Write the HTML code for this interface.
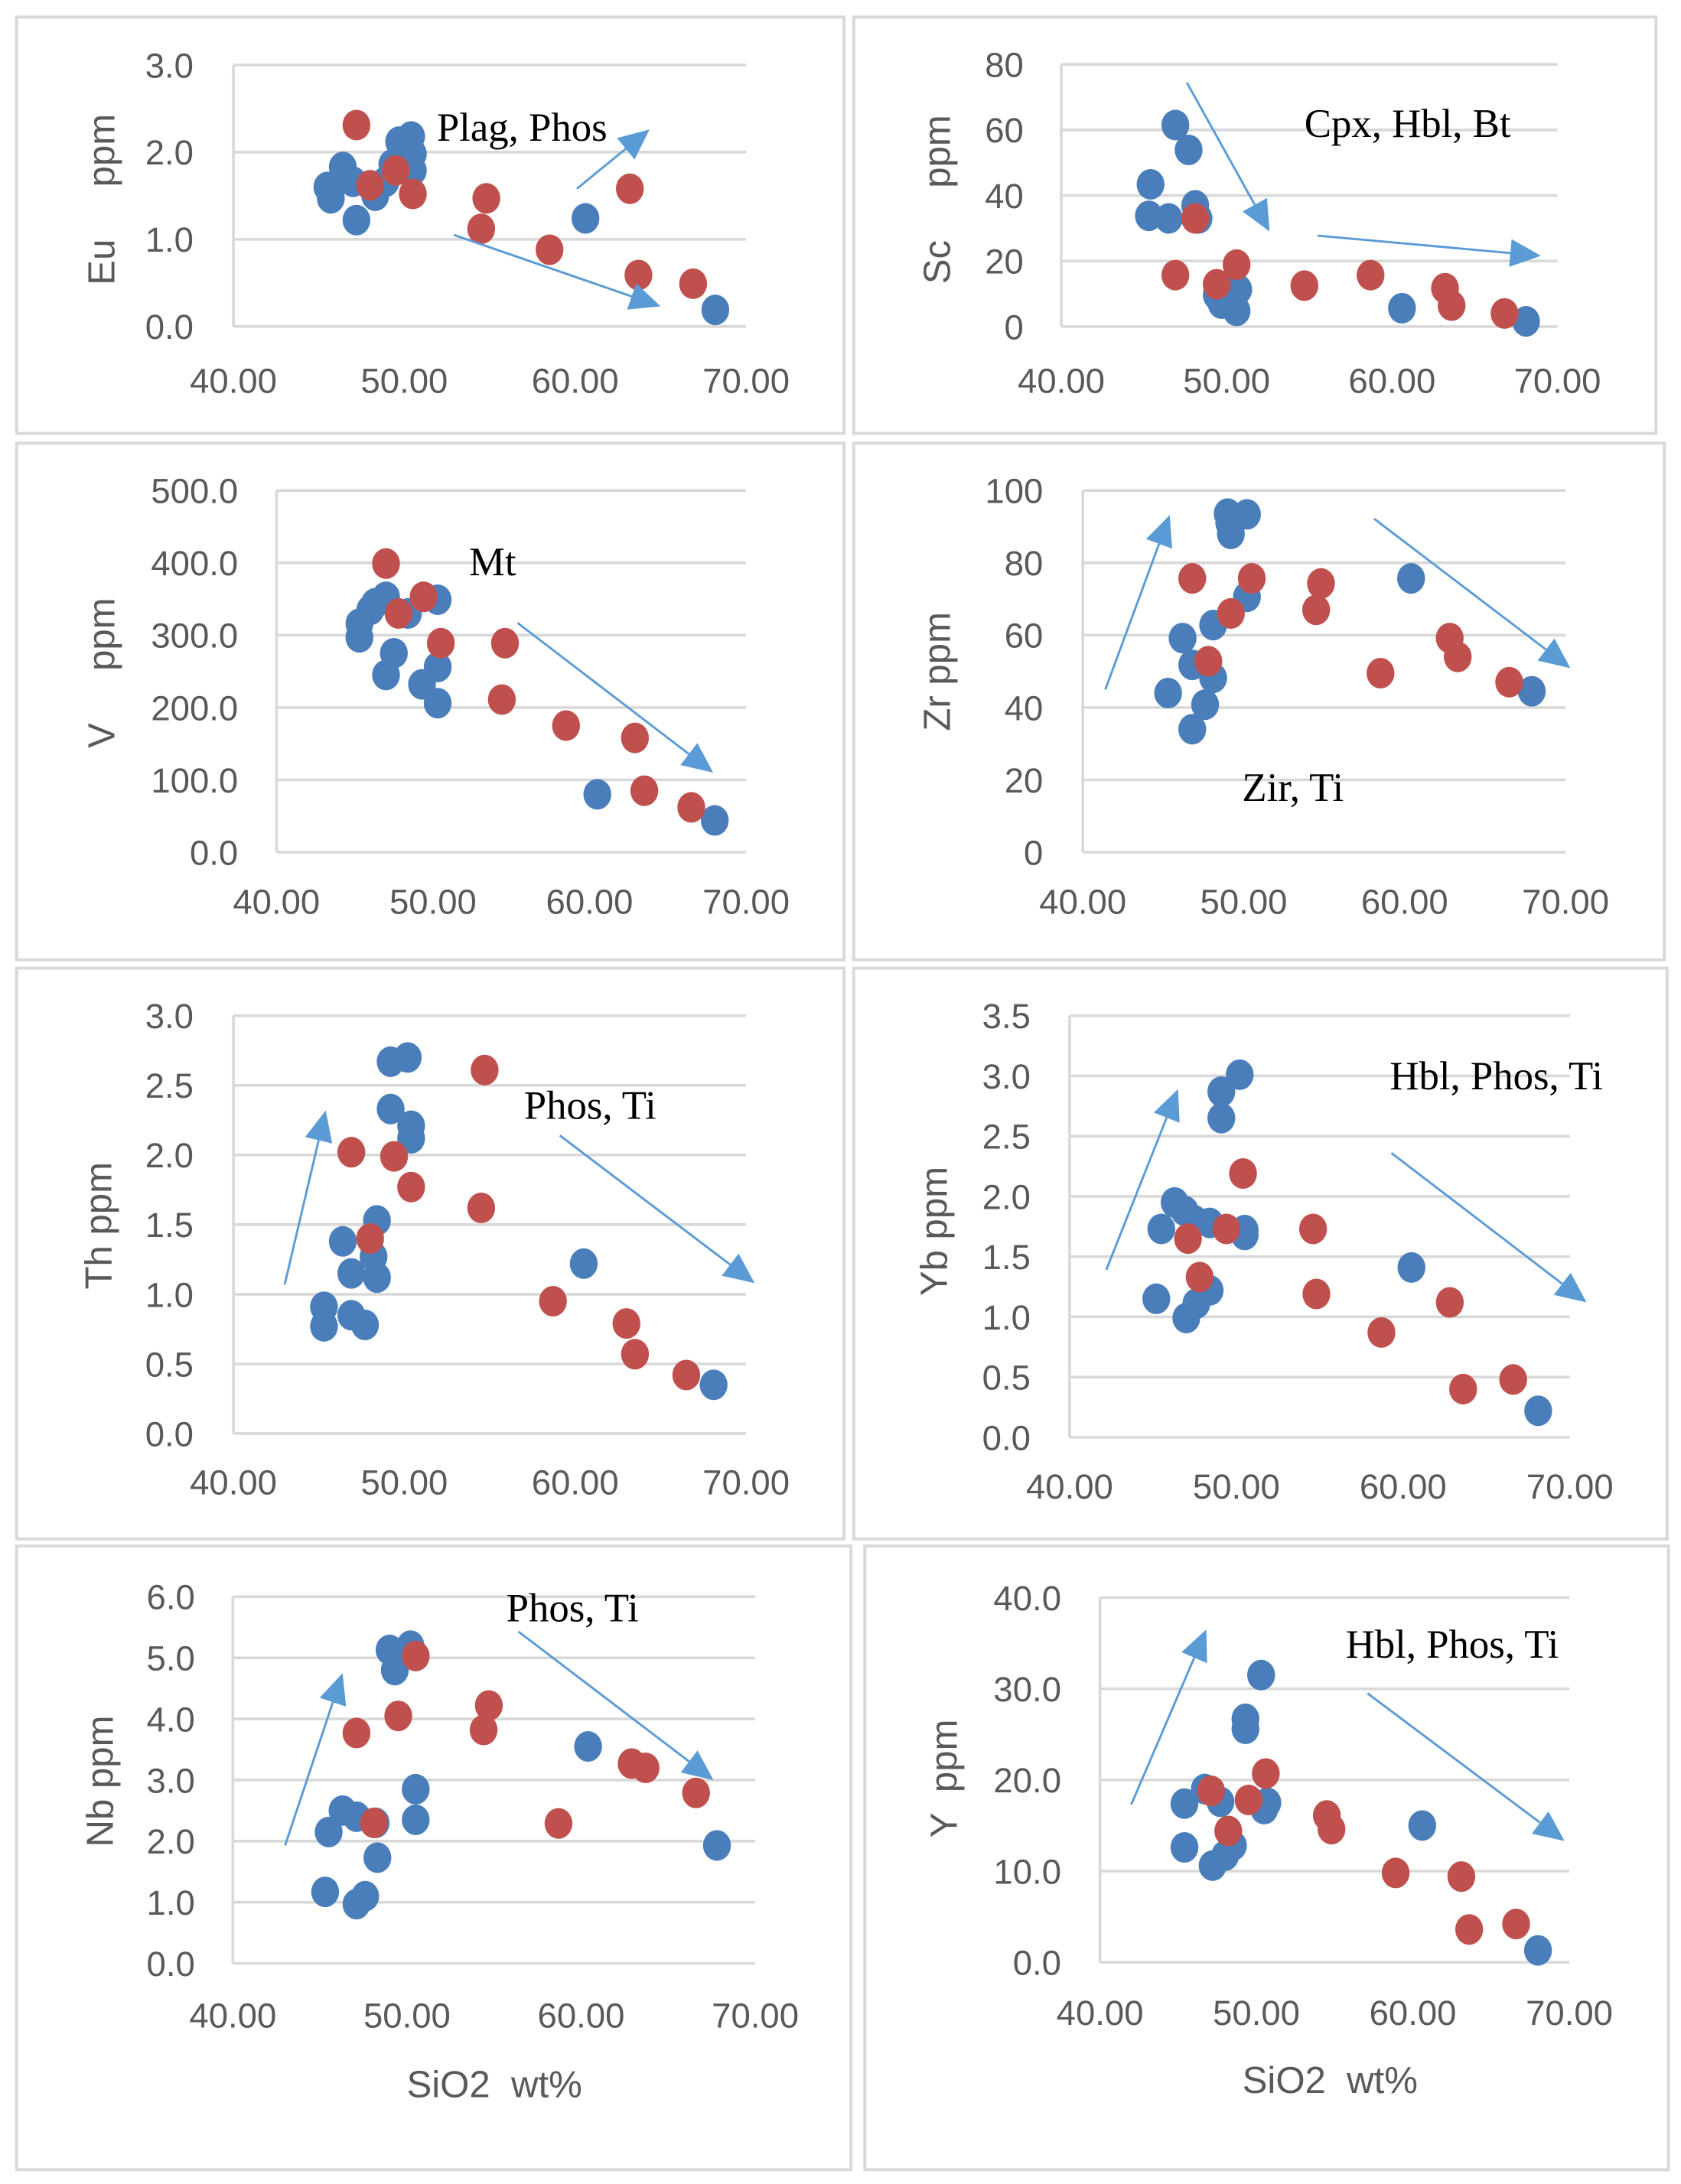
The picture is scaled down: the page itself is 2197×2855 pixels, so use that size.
<!DOCTYPE html>
<html><head><meta charset="utf-8"><style>
html,body{margin:0;padding:0;background:#fff}
svg{display:block}
text{white-space:pre}
</style></head><body>
<svg id="fig" xmlns="http://www.w3.org/2000/svg" width="2197" height="2855" viewBox="0 0 1207 1568"></svg>
<script>
// ---- data (SiO2 wt% vs element ppm) ----
const xTicks = [40, 50, 60, 70];
const xTickLabels = ["40.00", "50.00", "60.00", "70.00"];

const euBlueX = [45.5,45.7,46.4,47.2,47.0,48.3,48.9,49.7,50.4,50.5,50.5,49.3,60.6,68.2];
const euBlueY = [1.6,1.47,1.83,1.22,1.66,1.5,1.66,2.12,2.18,1.98,1.79,1.86,1.24,0.19];
const euRedX = [47.2,48.0,49.5,50.5,54.8,54.5,58.5,63.2,63.7,66.9];
const euRedY = [2.31,1.62,1.79,1.52,1.47,1.12,0.88,1.58,0.59,0.49];
const euTicks = [0,1,2,3];
const euTickLabels = ["0.0","1.0","2.0","3.0"];

const scBlueX = [46.9,47.7,45.4,45.3,46.5,48.1,48.3,49.4,50.7,50.6,49.7,60.6,68.1];
const scBlueY = [61.5,53.9,43.4,33.8,33,37,33,9.6,11.3,4.8,7,5.6,1.6];
const scRedX = [46.9,48.1,49.4,50.6,54.7,58.7,63.2,63.6,66.8];
const scRedY = [15.7,33,12.9,18.9,12.5,15.7,11.7,6.4,4];
const scTicks = [0,20,40,60,80];
const scTickLabels = ["0","20","40","60","80"];

const vBlueX = [45.3,45.3,46.0,47.0,48.4,47.5,47.0,49.3,50.3,50.3,50.3,60.5,68.0,46.3];
const vBlueY = [297,316,335,353,330,275,245,232,206,256,349,80,44,344];
const vRedX = [47.0,47.8,49.4,50.5,54.6,54.4,58.5,62.9,63.5,66.5];
const vRedY = [399,330,353,289,289,211,175,158,85,62];
const vTicks = [0,100,200,300,400,500];
const vTickLabels = ["0.0","100.0","200.0","300.0","400.0","500.0"];

const zrBlueX = [49.0,50.2,49.2,50.2,48.1,46.2,46.8,48.1,45.3,47.6,46.8,60.4,67.9,49.1];
const zrBlueY = [93.6,93.4,88,70.6,62.8,59.2,51.8,48.2,44,40.8,34,75.7,44.5,91];
const zrRedX = [46.8,50.5,49.2,47.8,54.8,54.5,58.5,62.8,63.3,66.5];
const zrRedY = [75.7,75.7,66,52.8,74.3,67,49.5,59.2,54,47];
const zrTicks = [0,20,40,60,80,100];
const zrTickLabels = ["0","20","40","60","80","100"];

const thBlueX = [49.2,50.2,49.2,50.4,50.4,48.4,46.4,48.2,46.9,48.4,45.3,45.3,46.9,47.7,60.5,68.1];
const thBlueY = [2.67,2.70,2.33,2.21,2.12,1.53,1.38,1.27,1.15,1.12,0.91,0.77,0.85,0.78,1.22,0.35];
const thRedX = [46.9,49.4,50.4,48.0,54.7,54.5,58.7,63.0,63.5,66.5];
const thRedY = [2.02,1.99,1.77,1.4,2.61,1.62,0.95,0.79,0.57,0.42];
const thTicks = [0,0.5,1,1.5,2,2.5,3];
const thTickLabels = ["0.0","0.5","1.0","1.5","2.0","2.5","3.0"];

const ybBlueX = [50.2,49.1,49.1,46.3,46.9,47.5,48.4,45.5,50.5,50.5,45.2,47.0,47.6,48.4,60.5,68.1];
const ybBlueY = [3.01,2.87,2.65,1.95,1.88,1.80,1.78,1.73,1.72,1.68,1.15,0.99,1.11,1.22,1.41,0.22];
const ybRedX = [50.4,49.4,47.1,47.8,54.6,54.8,58.7,62.8,63.6,66.6];
const ybRedY = [2.19,1.73,1.65,1.33,1.73,1.19,0.87,1.12,0.40,0.48];
const ybTicks = [0,0.5,1,1.5,2,2.5,3,3.5];
const ybTickLabels = ["0.0","0.5","1.0","1.5","2.0","2.5","3.0","3.5"];

const nbBlueX = [49.0,50.2,49.3,50.5,50.5,46.3,47.1,45.5,48.3,45.3,47.1,47.6,48.2,60.4,67.8];
const nbBlueY = [5.13,5.2,4.8,2.85,2.35,2.5,2.4,2.15,1.73,1.17,0.97,1.1,2.3,3.55,1.93];
const nbRedX = [50.5,49.5,47.1,48.1,54.7,54.4,58.7,62.9,63.7,66.6];
const nbRedY = [5.03,4.05,3.77,2.3,4.22,3.82,2.29,3.27,3.2,2.79];
const nbTicks = [0,1,2,3,4,5,6];
const nbTickLabels = ["0.0","1.0","2.0","3.0","4.0","5.0","6.0"];

const yBlueX = [50.3,49.3,49.3,45.4,46.7,47.7,50.5,50.7,45.4,47.2,48.0,48.5,60.6,68.0];
const yBlueY = [31.5,26.7,25.6,17.4,19,17.6,16.8,17.5,12.6,10.6,11.7,12.8,15,1.3];
const yRedX = [50.6,47.1,49.5,48.2,54.5,54.8,58.9,63.1,63.6,66.6];
const yRedY = [20.7,18.8,17.8,14.4,16.1,14.6,9.8,9.4,3.6,4.2];
const yTicks = [0,10,20,30,40];
const yTickLabels = ["0.0","10.0","20.0","30.0","40.0"];

// ---- layout ----
const NS = "http://www.w3.org/2000/svg";
const svg = document.getElementById("fig");
const BLUE = "#4a7ebb", RED = "#c0504d", ARROW = "#5b9bd5", GRID = "#d9d9d9", TXT = "#595959";

function mk(tag, attrs, parent) {
  const e = document.createElementNS(NS, tag);
  for (const k in attrs) e.setAttribute(k, attrs[k]);
  (parent || svg).appendChild(e);
  return e;
}

const panels = [
  {key:"eu", box:[12,12,606,311], plot:[167.6,535.7,46.4,234.2], ymax:3, bx:euBlueX, by:euBlueY, rx:euRedX, ry:euRedY, ticks:euTicks, labels:euTickLabels, lblRight:139, xlBase:282, title:"Eu     ppm", tx:73, ty:143, note:"Plag, Phos", nx:51.9, ny:2.13, arrows:[[60.1,1.58,64.35,2.26],[52.9,1.05,65,0.23]]},
  {key:"sc", box:[613,12,1189,311], plot:[762,1118.3,46,234.3], ymax:80, bx:scBlueX, by:scBlueY, rx:scRedX, ry:scRedY, ticks:scTicks, labels:scTickLabels, lblRight:735, xlBase:282, title:"Sc     ppm", tx:673, ty:143, note:"Cpx, Hbl, Bt", nx:54.7, ny:57.9, arrows:[[47.6,74.4,52.6,29],[55.5,27.75,69,21.6]]},
  {key:"v", box:[12,318,606,689], plot:[198.5,535.7,352,611.8], ymax:500, bx:vBlueX, by:vBlueY, rx:vRedX, ry:vRedY, ticks:vTicks, labels:vTickLabels, lblRight:171, xlBase:656, title:"V     ppm", tx:73, ty:483, note:"Mt", nx:52.3, ny:383, arrows:[[55.4,317,67.9,110]]},
  {key:"zr", box:[613,318,1195,689], plot:[777.5,1124.1,352,611.8], ymax:100, bx:zrBlueX, by:zrBlueY, rx:zrRedX, ry:zrRedY, ticks:zrTicks, labels:zrTickLabels, lblRight:749, xlBase:656, title:"Zr ppm", tx:673, ty:482, note:"Zir, Ti", nx:49.9, ny:14.2, arrows:[[41.4,45,45.4,93.2],[58.1,92.2,70.3,50.9]]},
  {key:"th", box:[12,695,606,1105], plot:[167.6,535.7,729.2,1029.3], ymax:3, bx:thBlueX, by:thBlueY, rx:thRedX, ry:thRedY, ticks:thTicks, labels:thTickLabels, lblRight:139, xlBase:1073, title:"Th ppm", tx:71, ty:880, note:"Phos, Ti", nx:57, ny:2.26, arrows:[[43,1.07,45.4,2.32],[59.1,2.14,70.5,1.08]]},
  {key:"yb", box:[613,695,1197,1105], plot:[768,1127.2,729.2,1032], ymax:3.5, bx:ybBlueX, by:ybBlueY, rx:ybRedX, ry:ybRedY, ticks:ybTicks, labels:ybTickLabels, lblRight:740, xlBase:1076, title:"Yb ppm", tx:671, ty:884, note:"Hbl, Phos, Ti", nx:59.2, ny:2.89, arrows:[[42.2,1.39,46.5,2.89],[59.3,2.36,71,1.12]]},
  {key:"nb", box:[12,1110,611,1558], plot:[167.2,542.3,1146.5,1409.8], ymax:6, bx:nbBlueX, by:nbBlueY, rx:nbRedX, ry:nbRedY, ticks:nbTicks, labels:nbTickLabels, lblRight:140, xlBase:1456, title:"Nb ppm", tx:72, ty:1279, note:"Phos, Ti", nx:55.7, ny:5.6, arrows:[[43,1.93,46.3,4.75],[56.4,5.43,67.6,3]], xtitle:[355,1506]},
  {key:"y", box:[621,1110,1198,1558], plot:[789.8,1126.8,1147.1,1409], ymax:40, bx:yBlueX, by:yBlueY, rx:yRedX, ry:yRedY, ticks:yTicks, labels:yTickLabels, lblRight:762, xlBase:1454, title:"Y  ppm", tx:678, ty:1277, note:"Hbl, Phos, Ti", nx:55.7, ny:33.4, arrows:[[42,17.3,46.8,36.5],[57.1,29.5,69.7,13.3]], xtitle:[955,1503]}
];

function drawArrow(g, x1, y1, x2, y2) {
  const dx = x2 - x1, dy = y2 - y1, L = Math.hypot(dx, dy);
  const ux = dx / L, uy = dy / L, hl = 22, hw = 10;
  const bx = x2 - ux * hl, by = y2 - uy * hl;
  const ln = mk("line", {x1:x1, y1:y1, x2:bx, y2:by, stroke:ARROW, "stroke-width":1.6}, g);
  
  
  const hd = mk("polygon", {points:`${x2},${y2} ${bx - uy*hw},${by + ux*hw} ${bx + uy*hw},${by - ux*hw}`, fill:ARROW}, g);
  
  
}

panels.forEach(p => {
  const g = mk("g", {});
  
  
  const [L, R, T, B] = p.plot;
  const sx = v => L + (v - 40) / 30 * (R - L);
  const sy = v => B - v / p.ymax * (B - T);

  const box = mk("rect", {x:p.box[0], y:p.box[1], width:p.box[2]-p.box[0], height:p.box[3]-p.box[1], fill:"#fff", stroke:"#d9d9d9", "stroke-width":2.2}, g);
  
  

  p.ticks.forEach((t, i) => {
    const gl = mk("line", {x1:L, x2:R, y1:sy(t), y2:sy(t), stroke:GRID, "stroke-width": 2}, g);
    
    
    const tl = mk("text", {x:p.lblRight, y:sy(t)+9, "text-anchor":"end", fill:TXT, "font-size":25, "font-family":"Liberation Sans Narrow, Liberation Sans, sans-serif"}, g);
    tl.textContent = p.labels[i];
    
    
  });
  const ax = mk("line", {x1:L, x2:L, y1:T, y2:B, stroke:GRID, "stroke-width":2}, g);
  
  

  xTicks.forEach((t, i) => {
    const xl = mk("text", {x:sx(t), y:p.xlBase, "text-anchor":"middle", fill:TXT, "font-size":25, "font-family":"Liberation Sans Narrow, Liberation Sans, sans-serif"}, g);
    xl.textContent = xTickLabels[i];
    
    
  });

  const yt = mk("text", {x:0, y:0, transform:`translate(${p.tx + 9},${p.ty}) rotate(-90)`, "text-anchor":"middle", fill:TXT, "font-size":27, "font-family":"Liberation Sans, sans-serif"}, g);
  yt.textContent = p.title;
  
  

  if (p.xtitle) {
    const xt = mk("text", {x:p.xtitle[0], y:p.xtitle[1], "text-anchor":"middle", fill:TXT, "font-size":27, "font-family":"Liberation Sans, sans-serif"}, g);
    xt.textContent = "SiO2  wt%";
    
    
  }

  p.bx.forEach((v, i) => {
    const c = mk("ellipse", {cx:sx(v), cy:sy(p.by[i]), rx:10, ry:11, fill:BLUE}, g);
    
    
  });
  p.rx.forEach((v, i) => {
    const c = mk("ellipse", {cx:sx(v), cy:sy(p.ry[i]), rx:10, ry:11, fill:RED}, g);
    
    
  });

  p.arrows.forEach(a => drawArrow(g, sx(a[0]), sy(a[1]), sx(a[2]), sy(a[3])));

  const nt = mk("text", {x:sx(p.nx), y:sy(p.ny), fill:"#000", "font-size":29, "font-family":"Liberation Serif, serif"}, g);
  nt.textContent = p.note;
  
  
});
</script>
</body></html>
